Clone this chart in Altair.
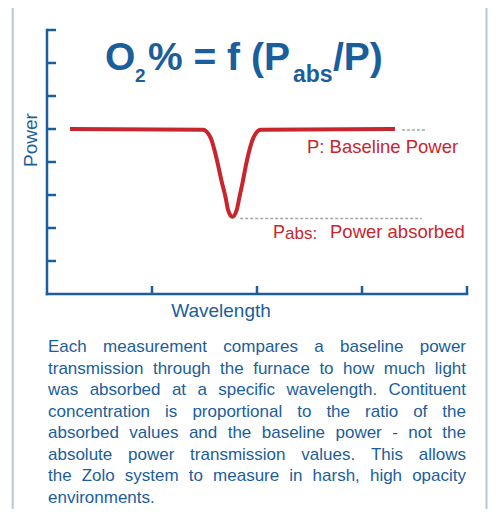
import altair as alt
import pandas as pd

# ---------------- data ----------------
curve_x = [0.219, 1.486, 1.559, 1.590, 1.629, 1.664, 1.702, 1.724, 1.765,
           1.807, 1.831, 1.864, 1.895, 1.933, 1.965, 2.035, 3.314]
curve_y = [5.0, 4.98, 4.73, 4.42, 3.91, 3.40, 2.91, 2.55, 2.34,
           2.55, 2.91, 3.40, 3.91, 4.42, 4.73, 4.98, 5.0]

baseline_ref_x = [3.38, 3.60]
baseline_ref_y = [4.97, 4.97]
absorbed_ref_x = [1.84, 3.57]
absorbed_ref_y = [2.29, 2.29]

y_ticks = [1, 2, 3, 4, 5, 6, 7, 8]
x_ticks = [1, 2, 3, 4]

y_title = "Power"
x_title = "Wavelength"
label_baseline = "P: Baseline Power"
label_abs_p = "P"
label_abs_sub = "abs:"
label_abs_rest = "Power absorbed"

paragraph = [
    "Each measurement compares a baseline power",
    "transmission through the furnace to how much light",
    "was absorbed at a specific wavelength. Contituent",
    "concentration is proportional to the ratio of the",
    "absorbed values and the baseline power - not  the",
    "absolute power transmission values.  This allows",
    "the Zolo system  to measure in harsh, high opacity",
    "environments.",
]

# ---------------- styles ----------------
BLUE = "#1b5e9c"
RED = "#c8262d"
GREY = "#a6a6a6"
BORDER = "#b7c7d8"
FONT = "Liberation Sans"
PARA_SIZE = 17
PARA_LEFT, PARA_RIGHT = 1, 419
PARA_TOP, PARA_LEAD = 322.3, 21.5

# Arial / Liberation Sans advance widths (1/1000 em) for justification
_W = {" ": 278, ",": 278, "-": 333, ".": 278, ":": 278, "!": 278}
_W.update({c: 556 for c in "0123456789"})
_W.update(dict(zip("ABCDEFGHIJKLMNOPQRSTUVWXYZ",
                   [667, 667, 722, 722, 667, 611, 778, 722, 278, 500, 667, 556, 833,
                    722, 778, 667, 778, 722, 667, 611, 722, 667, 944, 667, 667, 611])))
_W.update(dict(zip("abcdefghijklmnopqrstuvwxyz",
                   [556, 556, 500, 556, 556, 278, 556, 556, 222, 222, 500, 222, 833,
                    556, 556, 556, 556, 333, 500, 278, 556, 500, 722, 500, 500, 500])))


def text_width(s, size):
    return sum(_W.get(c, 556) for c in s) * size / 1000.0


rows = []
for i, line in enumerate(paragraph):
    words = line.split()
    py = PARA_TOP + PARA_LEAD * i
    if i == len(paragraph) - 1 or len(words) == 1:
        rows.append({"w": line, "px": PARA_LEFT, "py": py})
        continue
    widths = [text_width(w, PARA_SIZE) for w in words]
    gap = (PARA_RIGHT - PARA_LEFT - sum(widths)) / (len(words) - 1)
    x = PARA_LEFT
    for w, wd in zip(words, widths):
        rows.append({"w": w, "px": x, "py": py})
        x += wd + gap
df_para = pd.DataFrame(rows)

X = alt.Scale(domain=[0, 4], nice=False, zero=False)
Y = alt.Scale(domain=[0, 8], nice=False, zero=False)
one = pd.DataFrame({"a": [0]})

border = alt.Chart(one).mark_rect(
    fillOpacity=0, stroke=BORDER, strokeWidth=2
).encode(x=alt.value(-34.3), x2=alt.value(439.5), y=alt.value(-27.3), y2=alt.value(540))

y_axis = alt.Chart(pd.DataFrame({"x": [0], "y": [0], "y2": [8]})).mark_rule(
    color=BLUE, strokeWidth=2.5, strokeCap="square"
).encode(x=alt.X("x:Q", scale=X, axis=None), y=alt.Y("y:Q", scale=Y, axis=None), y2="y2:Q")

x_axis = alt.Chart(pd.DataFrame({"x": [0], "x2": [4], "y": [0]})).mark_rule(
    color=BLUE, strokeWidth=2.5, strokeCap="square"
).encode(x=alt.X("x:Q", scale=X, axis=None), x2="x2:Q", y=alt.Y("y:Q", scale=Y, axis=None))

y_tick = alt.Chart(pd.DataFrame({"v": y_ticks})).mark_rule(
    color=BLUE, strokeWidth=2.5
).encode(y=alt.Y("v:Q", scale=Y, axis=None), x=alt.value(0), x2=alt.value(9))

x_tick = alt.Chart(pd.DataFrame({"v": x_ticks})).mark_rule(
    color=BLUE, strokeWidth=2.5
).encode(x=alt.X("v:Q", scale=X, axis=None), y=alt.value(264), y2=alt.value(256))

df_curve = pd.DataFrame({"x": curve_x, "y": curve_y})
curve = alt.Chart(df_curve).mark_line(
    color=RED, strokeWidth=4, interpolate="monotone", strokeCap="butt"
).encode(x=alt.X("x:Q", scale=X, axis=None), y=alt.Y("y:Q", scale=Y, axis=None))

df_ref = pd.DataFrame({
    "x": baseline_ref_x + absorbed_ref_x,
    "y": baseline_ref_y + absorbed_ref_y,
    "g": ["base", "base", "abs", "abs"],
})
refs = alt.Chart(df_ref).mark_line(
    color=GREY, strokeWidth=1.5, strokeDash=[3, 2]
).encode(x=alt.X("x:Q", scale=X, axis=None), y=alt.Y("y:Q", scale=Y, axis=None), detail="g:N")


def txt(s, x, y, size, color, weight="normal", align="left", angle=0, **kw):
    return alt.Chart(pd.DataFrame({"t": [s]})).mark_text(
        font=FONT, fontSize=size, color=color, fontWeight=weight,
        align=align, baseline="alphabetic", angle=angle, **kw
    ).encode(x=alt.value(x), y=alt.value(y), text="t:N")


texts = [
    txt("O", 58, 39.5, 39, BLUE, "bold"),
    txt("2", 88, 51.7, 19, BLUE, "bold"),
    txt("% = f (P", 101, 39.5, 39, BLUE, "bold"),
    txt("abs", 246, 51.5, 23, BLUE, "bold"),
    txt("/P)", 286, 39.5, 39, BLUE, "bold"),
    txt(y_title, -10, 110, 19, BLUE, align="center", angle=270),
    txt(x_title, 174, 287, 19, BLUE, align="center"),
    txt(label_baseline, 260, 123, 18.5, RED),
    txt(label_abs_p, 226, 208, 18, RED),
    txt(label_abs_sub, 238, 209, 17, RED),
    txt(label_abs_rest, 283, 208, 18.5, RED),
]

para = alt.Chart(df_para).mark_text(
    font=FONT, fontSize=PARA_SIZE, color=BLUE, align="left", baseline="alphabetic"
).encode(x=alt.X("px:Q", scale=None, axis=None), y=alt.Y("py:Q", scale=None, axis=None), text="w:N")

chart = alt.layer(
    border, curve, refs, y_axis, x_axis, y_tick, x_tick, *texts, para
).resolve_scale(x="independent", y="independent").properties(
    width=420,
    height=264,
    padding={"left": 39, "top": 22, "right": 21, "bottom": 215},
    autosize=alt.AutoSizeParams(type="none"),
    background="white",
).configure_view(stroke=None)

chart.save("out.html", embed_options={"renderer": "svg", "actions": False})
